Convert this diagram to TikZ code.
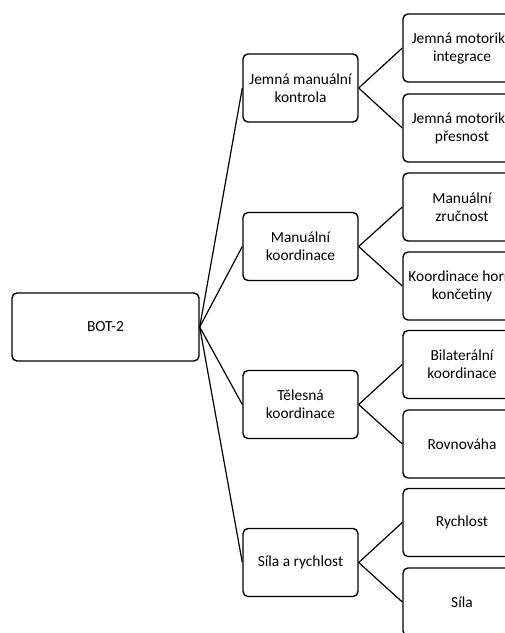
\documentclass[tikz,border=0pt]{standalone}
\usepackage{fontspec}
\setmainfont{Carlito}
\begin{document}
\begin{tikzpicture}[x=1pt,y=-1pt,line width=1.2pt,
		box/.style={draw,line width=1.4pt,rounded corners=5pt,align=center,inner sep=0pt,minimum height=68pt,font=\fontsize{15.4}{18}\selectfont},
		root/.style={box,minimum width=187pt},
		lvlone/.style={box,minimum width=115pt},
		lvltwo/.style={box,minimum width=118pt}]
		\useasboundingbox (0,0) rectangle (505,633);
		\clip (0,0) rectangle (505,633);
		% koren
		\node[root] (bot) at (105.5,327) {BOT-2};
		% prvni uroven
		\node[lvlone] (jmk) at (300.5,88) {Jemná manuální\\kontrola};
		\node[lvlone] (mk) at (300.5,246.5) {Manuální\\koordinace};
		\node[lvlone] (tk) at (300.5,404.5) {Tělesná\\koordinace};
		\node[lvlone] (sr) at (300.5,562.5) {Síla a rychlost};
		% druha uroven
		\node[lvltwo] (jmi) at (462,48) {Jemná motorika\\integrace};
		\node[lvltwo] (jmp) at (462,128) {Jemná motorika\\přesnost};
		\node[lvltwo] (mz) at (462,207) {Manuální\\zručnost};
		\node[lvltwo] (khk) at (462,286) {Koordinace horní\\končetiny};
		\node[lvltwo] (bk) at (462,364.5) {Bilaterální\\koordinace};
		\node[lvltwo] (rov) at (462,444) {Rovnováha};
		\node[lvltwo] (ry) at (462,522.5) {Rychlost};
		\node[lvltwo] (sil) at (462,602) {Síla};
		% spojnice
		\foreach \a in {jmk,mk,tk,sr}
			\draw (bot.east) -- (\a.west);
		\foreach \a/\b in {jmk/jmi,jmk/jmp,mk/mz,mk/khk,tk/bk,tk/rov,sr/ry,sr/sil}
			\draw (\a.east) -- (\b.west);
\end{tikzpicture}
\end{document}
